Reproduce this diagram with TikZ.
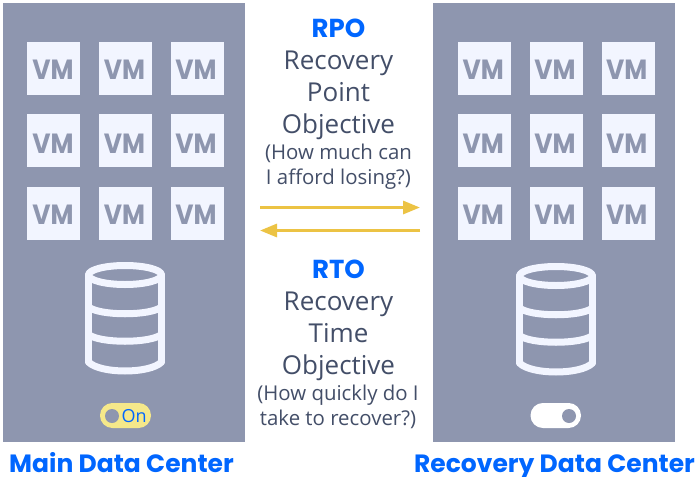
\documentclass[tikz,border=0pt]{standalone}
\usepackage{fontspec}
\setmainfont{Open Sans}
\newfontfamily\headfont{Poppins}
\usetikzlibrary{arrows.meta}
\definecolor{panelc}{HTML}{8E96AF}
\definecolor{vmbg}{HTML}{F2F5FF}
\definecolor{bluec}{HTML}{0066FF}
\definecolor{textc}{HTML}{434E68}
\definecolor{arrowc}{HTML}{ECC344}
\definecolor{togc}{HTML}{F5E88A}
\tikzset{
  panel/.style={fill=panelc,draw=none},
  vmbox/.style={fill=vmbg,draw=none,minimum size=53pt,inner sep=0pt},
  vmtext/.style={anchor=base,inner sep=0pt,text=panelc,font=\headfont\fontsize{25}{25}\selectfont\bfseries},
  dbline/.style={draw=vmbg,line width=7pt,line join=round,line cap=round},
  heading/.style={anchor=base,inner sep=0pt,text=bluec,font=\headfont\fontsize{26}{26}\selectfont\bfseries},
  big/.style={anchor=base,inner sep=0pt,text=textc,font=\fontsize{26}{26}\selectfont},
  small/.style={anchor=base,inner sep=0pt,text=textc,font=\fontsize{20.4}{20.4}\selectfont},
  title/.style={anchor=base,inner sep=0pt,text depth=0pt,text=bluec,font=\headfont\fontsize{25}{25}\selectfont\bfseries},
  flow/.style={draw=arrowc,line width=3pt,-{Triangle[length=17pt,width=13pt]}},
  togglebox/.style={rounded corners=12.4pt,draw=none},
}
\newcommand{\vmlabel}{\scalebox{1}[1.11]{VM}}
\newcommand{\dbicon}[2]{%
  \begin{scope}[shift={(#1,#2)}]
    \draw[dbline] (-36.5,0) arc[x radius=36.5,y radius=9.5,start angle=180,end angle=-180];
    \draw[dbline] (-36.5,0) -- (-36.5,87);
    \draw[dbline] (36.5,0) -- (36.5,87);
    \draw[dbline] (-36.5,32) .. controls (-25,41) and (25,41) .. (36.5,32);
    \draw[dbline] (-36.5,59.5) .. controls (-25,68.5) and (25,68.5) .. (36.5,59.5);
    \draw[dbline] (-36.5,87) .. controls (-25,99) and (25,99) .. (36.5,87);
  \end{scope}}
\begin{document}
\begin{tikzpicture}[x=1pt,y=-1pt]
\useasboundingbox (0,0) rectangle (697,477);
\fill[white] (0,0) rectangle (697,477);
\fill[panel] (3,3) rectangle (245,442);
\fill[panel] (433,3) rectangle (675,442);
% VMs
\foreach \n/\x/\tx in {a/53.5/53,b/125.5/124.5,c/197.5/196}{
  \foreach \m/\y/\ty in {1/68.5/79,2/140.5/153.5,3/213.5/224}{
    \node[vmbox] (l\n\m) at (\x,\y) {};
    \node[vmtext] (lt\n\m) at (\tx,\ty) {\vmlabel};
  }
}
\foreach \n/\x/\tx in {a/484.5/483.3,b/556.5/555,c/628.5/626.7}{
  \foreach \m/\y/\ty in {1/68.5/79,2/140.5/153.5,3/213.5/224}{
    \node[vmbox] (r\n\m) at (\x,\y) {};
    \node[vmtext] (rt\n\m) at (\tx,\ty) {\vmlabel};
  }
}
\dbicon{125}{275}
\dbicon{556}{276}
% toggles
\fill[togc,togglebox] (100,403) rectangle (151,428);
\fill[panelc] (112,416) circle[radius=7];
\node[anchor=base west,inner sep=0pt,text=bluec,font=\fontsize{18}{18}\selectfont] (onlabel) at (121.5,422) {On};
\fill[white,togglebox] (530.5,403) rectangle (581,428);
\fill[panelc] (569,416) circle[radius=7];
% middle text
\node[heading] (rpo) at (338.5,37) {RPO};
\node[big] (rpo1) at (338.5,69) {Recovery};
\node[big] (rpo2) at (338.5,101) {Point};
\node[big] (rpo3) at (338.5,133) {Objective};
\node[small] (rpo4) at (338.5,159) {(How much can};
\node[small] (rpo5) at (338.5,184) {I afford losing?)};
\node[heading] (rto) at (338.5,278) {RTO};
\node[big] (rto1) at (338.5,310) {Recovery};
\node[big] (rto2) at (338.5,342) {Time};
\node[big] (rto3) at (338.5,374) {Objective};
\node[small] (rto4) at (338,400) {(How quickly do I};
\node[small] (rto5) at (338,425) {take to recover?)};
% arrows
\coordinate (a1) at (260,207.5);
\coordinate (a2) at (420,207.5);
\coordinate (b1) at (420,230.5);
\coordinate (b2) at (260,230.5);
\draw[flow] (a1) -- (a2);
\draw[flow] (b1) -- (b2);
% titles
\node[title] (main) at (121.5,472) {Main Data Center};
\node[title] (rec) at (554.5,472) {Recovery Data Center};
\end{tikzpicture}
\end{document}
